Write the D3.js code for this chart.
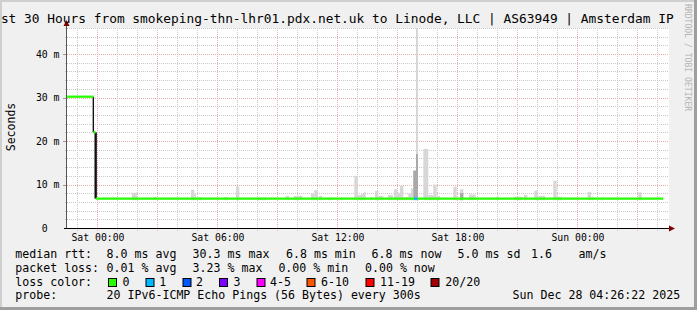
<!DOCTYPE html>
<html>
<head>
<meta charset="utf-8">
<script src="https://cdn.jsdelivr.net/npm/d3@7"></script>
<style>
    body { margin: 0; background: #f0f0f0; }
    svg { display: block; }
    text { font-family: "DejaVu Sans Mono", monospace; fill: #000; }
</style>
</head>
<body>
<svg id="chart" width="697" height="310"></svg>
<script>
// time window of the graph (30 hours)
var rangeStart = "2025-12-26T22:31";
var rangeEnd = "2025-12-28T04:31";

// median rtt, drawn as steps: start of each step, value in ms, lost pings
var medianTime = [ "2025-12-26T22:31", "2025-12-26T23:50", "2025-12-26T23:57", "2025-12-27T15:52", "2025-12-27T16:03" ];
var medianRtt = [ 30.2, 22.0, 6.75, 6.75, 6.75 ];
var medianLoss = [ 0, 0, 0, 1, 0 ];
var medianEnd = "2025-12-28T04:20";

// smoke (spread of the 20 pings): start, minutes, top in ms, darker core top in ms
var smokeTime = [
    "2025-12-27T01:46", "2025-12-27T02:52", "2025-12-27T04:43", "2025-12-27T04:53", "2025-12-27T05:05",
    "2025-12-27T06:23", "2025-12-27T06:58", "2025-12-27T08:04", "2025-12-27T09:27", "2025-12-27T09:52",
    "2025-12-27T10:43", "2025-12-27T10:53", "2025-12-27T11:07", "2025-12-27T11:34", "2025-12-27T12:13",
    "2025-12-27T12:53", "2025-12-27T13:03", "2025-12-27T13:13", "2025-12-27T13:22", "2025-12-27T13:40",
    "2025-12-27T13:55", "2025-12-27T14:05", "2025-12-27T14:34", "2025-12-27T14:52", "2025-12-27T15:01",
    "2025-12-27T15:10", "2025-12-27T15:20", "2025-12-27T15:35", "2025-12-27T15:43", "2025-12-27T15:50",
    "2025-12-27T15:58", "2025-12-27T16:20", "2025-12-27T16:35", "2025-12-27T16:50", "2025-12-27T17:00",
    "2025-12-27T17:50", "2025-12-27T18:10", "2025-12-27T18:37", "2025-12-27T20:00", "2025-12-27T20:52",
    "2025-12-27T21:22", "2025-12-27T21:53", "2025-12-27T22:05", "2025-12-27T22:50", "2025-12-27T23:00",
    "2025-12-28T00:33", "2025-12-28T00:45", "2025-12-28T01:15", "2025-12-28T03:05"
];
var smokeMinutes = [
    15, 5, 10, 5, 10,
    10, 10, 25, 10, 25,
    10, 10, 10, 10, 5,
    10, 10, 10, 5, 10,
    10, 15, 15, 10, 10,
    10, 15, 10, 7, 8,
    6, 15, 15, 10, 10,
    10, 10, 20, 5, 25,
    10, 10, 20, 10, 15,
    10, 5, 5, 10
];
var smokeHi = [
    8.1, 7.2, 8.8, 8.0, 7.1,
    7.1, 9.5, 7.0, 7.4, 7.4,
    7.9, 8.7, 7.4, 7.0, 7.0,
    12.0, 7.6, 7.8, 8.3, 7.0,
    8.5, 7.4, 7.6, 8.9, 8.1,
    9.7, 7.1, 8.0, 9.1, 13.2,
    46.0, 18.2, 7.6, 10.0, 7.4,
    9.5, 8.9, 7.7, 7.4, 7.2,
    7.6, 8.6, 7.4, 10.9, 7.2,
    8.3, 7.2, 7.0, 8.2
];
var smokeMid = [
    0, 0, 0, 0, 0,
    0, 0, 0, 0, 0,
    0, 0, 0, 0, 0,
    0, 0, 0, 0, 0,
    0, 0, 0, 0, 0,
    0, 0, 0, 0, 13.2,
    17.0, 0, 0, 0, 0,
    0, 8.0, 0, 0, 0,
    0, 0, 0, 0, 0,
    0, 0, 0, 0
];

// axis ticks
var yTicks = [ 0, 10, 20, 30, 40 ];
var yTickLabels = [ "0\u00a0\u00a0", "10 m", "20 m", "30 m", "40 m" ];
var xLabelHours = 6;

// texts
var titleText = "st 30 Hours from smokeping-thn-lhr01.pdx.net.uk to Linode, LLC | AS63949 | Amsterdam IP";
var yTitle = "Seconds";
var rttLabel = "median rtt:";
var rttStats = [ "8.0 ms avg", "30.3 ms max", "6.8 ms min", "6.8 ms now", "5.0 ms sd", "1.6", "am/s" ];
var lossLabel = "packet loss:";
var lossStats = [ "0.01 % avg", "3.23 % max", "0.00 % min", "0.00 % now" ];
var colorLabel = "loss color:";
var lossNames = [ "0", "1", "2", "3", "4-5", "6-10", "11-19", "20/20" ];
var lossColors = [ "#26ff00", "#00b8ff", "#0059ff", "#7e00ff", "#ff00ff", "#ff5500", "#ff0000", "#a10000" ];
var probeLabel = "probe:";
var probeText = "20 IPv6-ICMP Echo Pings (56 Bytes) every 300s";
var stampText = "Sun Dec 28 04:26:22 2025";
var watermark = "RRDTOOL / TOBI OETIKER";

(function () {
    var W = 697, H = 310;
    var left = 67, right = 667, top = 28, bottom = 228;
    var parse = d3.utcParse( "%Y-%m-%dT%H:%M" );
    var svg = d3.select( "#chart" );

    var x = d3.scaleUtc()
        .domain( [ parse( rangeStart ), parse( rangeEnd ) ] )
        .range( [ left, right ] );
    var y = d3.scaleLinear()
        .domain( [ 0, 46 ] )
        .range( [ bottom, top ] );

    function px( v ) { return Math.round( v ) + 0.5; }

    // frame and canvas
    svg.append( "rect" ).attr( "width", W ).attr( "height", H ).attr( "fill", "#f0f0f0" );
    svg.append( "path" ).attr( "d", "M0,0H" + W + "V2H2V" + H + "H0Z" ).attr( "fill", "#cfcfcf" );
    svg.append( "path" ).attr( "d", "M" + W + ",0V" + H + "H0V" + ( H - 3 ) + "H" + ( W - 3 ) + "V0Z" ).attr( "fill", "#9e9e9e" );
    svg.append( "rect" )
        .attr( "x", left ).attr( "y", top )
        .attr( "width", right - left + 2 ).attr( "height", bottom - top )
        .attr( "fill", "#fff" );

    // grid
    var grid = svg.append( "g" ).attr( "stroke-width", 1 ).attr( "stroke-dasharray", "1,1" );
    var hourTicks = x.ticks( d3.utcHour.every( 1 ) );
    grid.selectAll( "line.vx" )
        .data( hourTicks )
        .enter().append( "line" )
        .attr( "x1", function ( d ) { return px( x( d ) ); } )
        .attr( "x2", function ( d ) { return px( x( d ) ); } )
        .attr( "y1", top )
        .attr( "y2", bottom + 3 )
        .attr( "stroke", function ( d ) {
            return d.getUTCHours() % 3 === 0 ? "#eeadad" : "#c8c8c8";
        });
    var yGrid = d3.range( 2, 47, 2 );
    grid.selectAll( "line.hy" )
        .data( yGrid )
        .enter().append( "line" )
        .attr( "x1", left - 2 )
        .attr( "x2", right + 2 )
        .attr( "y1", function ( d ) { return px( y( d ) ); } )
        .attr( "y2", function ( d ) { return px( y( d ) ); } )
        .attr( "stroke", function ( d ) {
            return d % 10 === 0 ? "#eeadad" : "#c8c8c8";
        });

    // y-axis tick marks
    svg.selectAll( "line.yt" )
        .data( yTicks.slice( 1 ) )
        .enter().append( "line" )
        .attr( "x1", left - 4 ).attr( "x2", left )
        .attr( "y1", function ( d ) { return px( y( d ) ); } )
        .attr( "y2", function ( d ) { return px( y( d ) ); } )
        .attr( "stroke", "#999" );

    // smoke
    var smoke = smokeTime.map( function ( t, i ) {
        var t0 = parse( t );
        return { t0: t0, t1: d3.utcMinute.offset( t0, smokeMinutes[ i ] ), hi: smokeHi[ i ], mid: smokeMid[ i ] };
    });
    var base = 6.4;
    svg.append( "g" ).selectAll( "rect" )
        .data( smoke )
        .enter().append( "rect" )
        .attr( "x", function ( d ) { return x( d.t0 ); } )
        .attr( "width", function ( d ) { return x( d.t1 ) - x( d.t0 ); } )
        .attr( "y", function ( d ) { return y( d.hi ); } )
        .attr( "height", function ( d ) { return y( base ) - y( d.hi ); } )
        .attr( "fill", "#d7d7d7" );
    svg.append( "g" ).selectAll( "rect" )
        .data( smoke.filter( function ( d ) { return d.mid > 0; } ) )
        .enter().append( "rect" )
        .attr( "x", function ( d ) { return x( d.t0 ); } )
        .attr( "width", function ( d ) { return x( d.t1 ) - x( d.t0 ); } )
        .attr( "y", function ( d ) { return y( d.mid ); } )
        .attr( "height", function ( d ) { return y( base ) - y( d.mid ); } )
        .attr( "fill", "#a9a9a9" );

    // median line: steps coloured by loss, black risers
    var steps = medianTime.map( function ( t, i ) {
        var next = i + 1 < medianTime.length ? medianTime[ i + 1 ] : medianEnd;
        return { t0: parse( t ), t1: parse( next ), v: medianRtt[ i ], loss: medianLoss[ i ] };
    });
    var risers = [];
    for ( var i = 1; i < steps.length; i += 1 ) {
        if ( steps[ i ].v !== steps[ i - 1 ].v ) {
            risers.push({ t: steps[ i ].t0, a: steps[ i - 1 ].v, b: steps[ i ].v });
        }
    }
    svg.append( "g" ).selectAll( "line" )
        .data( risers )
        .enter().append( "line" )
        .attr( "x1", function ( d ) { return x( d.t ); } )
        .attr( "x2", function ( d ) { return x( d.t ); } )
        .attr( "y1", function ( d ) { return y( d.a ); } )
        .attr( "y2", function ( d ) { return y( d.b ); } )
        .attr( "stroke", "#111" )
        .attr( "stroke-width", function ( d, i ) { return i === 0 ? 1.4 : 2.4; } );
    svg.append( "g" ).selectAll( "line" )
        .data( steps )
        .enter().append( "line" )
        .attr( "x1", function ( d ) { return x( d.t0 ); } )
        .attr( "x2", function ( d ) { return x( d.t1 ); } )
        .attr( "y1", function ( d ) { return y( d.v ); } )
        .attr( "y2", function ( d ) { return y( d.v ); } )
        .attr( "stroke", function ( d ) { return lossColors[ Math.min( d.loss, 1 ) ]; } )
        .attr( "stroke-width", 2.3 );

    // axes with arrows
    svg.append( "line" )
        .attr( "x1", left - 0.5 ).attr( "x2", left - 0.5 )
        .attr( "y1", bottom ).attr( "y2", top - 3 )
        .attr( "stroke", "#555" );
    svg.append( "line" )
        .attr( "x1", left - 3 ).attr( "x2", right + 4 )
        .attr( "y1", bottom + 0.5 ).attr( "y2", bottom + 0.5 )
        .attr( "stroke", "#000" );
    svg.append( "path" )
        .attr( "d", "M" + ( left - 3.5 ) + "," + ( top - 2 ) + "L" + ( left + 2.5 ) + "," + ( top - 2 ) + "L" + ( left - 0.5 ) + "," + ( top - 8 ) + "Z" )
        .attr( "fill", "#7f0000" );
    svg.append( "path" )
        .attr( "d", "M" + ( right + 2 ) + "," + ( bottom - 2.5 ) + "L" + ( right + 2 ) + "," + ( bottom + 3.5 ) + "L" + ( right + 8 ) + "," + ( bottom + 0.5 ) + "Z" )
        .attr( "fill", "#7f0000" );

    // y tick labels
    svg.selectAll( "text.yl" )
        .data( yTicks )
        .enter().append( "text" )
        .attr( "x", 59.5 )
        .attr( "y", function ( d ) { return y( d ) + 3.6; } )
        .attr( "text-anchor", "end" )
        .style( "font-size", "9.8px" )
        .text( function ( d, i ) { return yTickLabels[ i ]; } );

    // x tick labels
    var fmt = d3.utcFormat( "%a %H:%M" );
    svg.selectAll( "text.xl" )
        .data( x.ticks( d3.utcHour.every( xLabelHours ) ) )
        .enter().append( "text" )
        .attr( "x", function ( d ) { return x( d ) + 1.3; } )
        .attr( "y", 241.3 )
        .attr( "text-anchor", "middle" )
        .style( "font-size", "9.8px" )
        .text( fmt );

    // titles
    svg.append( "text" )
        .attr( "x", 0.9 ).attr( "y", 23.4 )
        .style( "font-size", "12.85px" )
        .text( titleText );
    svg.append( "text" )
        .attr( "transform", "translate(15.2,127) rotate(-90)" )
        .attr( "text-anchor", "middle" )
        .style( "font-size", "11.5px" )
        .text( yTitle );
    svg.append( "text" )
        .attr( "transform", "translate(685,4) rotate(90)" )
        .style( "font-size", "8.1px" )
        .style( "fill", "#b4b4b4" )
        .text( watermark );

    // legend
    var lg = svg.append( "g" ).style( "font-size", "11.6px" ).style( "white-space", "pre" );
    var rowY = [ 258, 271.7, 285.5, 299.2 ];
    var rttX = [ 106.6, 192.6, 286, 371.6, 457.6, 531, 578.6 ];
    var lossX = [ 106.6, 192.6, 278.4, 365 ];
    var boxX = [ 108.5, 146, 183, 219.5, 257, 307, 366, 431 ];
    var nameX = [ 122.6, 159.3, 196, 233.6, 270, 321, 380, 445.3 ];

    function put( str, xx, yy ) {
        lg.append( "text" ).attr( "x", xx ).attr( "y", yy ).text( str );
    }
    put( rttLabel, 15.3, rowY[ 0 ] );
    rttStats.forEach( function ( s, i ) { put( s, rttX[ i ], rowY[ 0 ] ); } );
    put( lossLabel, 15.3, rowY[ 1 ] );
    lossStats.forEach( function ( s, i ) { put( s, lossX[ i ], rowY[ 1 ] ); } );
    put( colorLabel, 15.3, rowY[ 2 ] );
    lg.selectAll( "rect" )
        .data( lossColors )
        .enter().append( "rect" )
        .attr( "x", function ( d, i ) { return boxX[ i ]; } )
        .attr( "y", 278.5 )
        .attr( "width", 8 ).attr( "height", 8 )
        .attr( "fill", function ( d ) { return d; } )
        .attr( "stroke", "#000" );
    lossNames.forEach( function ( s, i ) { put( s, nameX[ i ], rowY[ 2 ] ); } );
    put( probeLabel, 15.3, rowY[ 3 ] );
    put( probeText, 106.6, rowY[ 3 ] );
    put( stampText, 512.6, rowY[ 3 ] );
})();
</script>
</body>
</html>
